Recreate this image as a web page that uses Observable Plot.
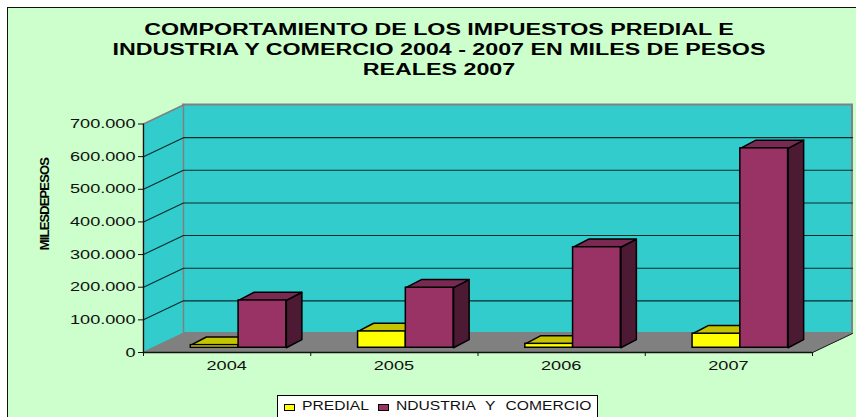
<!DOCTYPE html>
<html>
<head>
<meta charset="utf-8">
<script src="https://cdn.jsdelivr.net/npm/d3@7"></script>
<script src="https://cdn.jsdelivr.net/npm/@observablehq/plot@0.6"></script>
<style>
html,body{margin:0;padding:0;background:#fff;overflow:hidden}
#page{position:relative;width:856px;height:417px;overflow:hidden;font-family:"Liberation Sans",Arial,sans-serif}
#panel{position:absolute;left:7px;top:7px;width:860px;height:420px;box-sizing:border-box;background:#CCFFCC;border-left:1.5px solid #111;border-top:1.5px solid #111}
#title{position:absolute;left:139px;top:20px;width:600px;text-align:center;font-weight:bold;font-size:16px;line-height:19.8px;color:#000;white-space:nowrap;transform:scaleX(1.452);transform-origin:center}
#chart{position:absolute;left:0;top:95px}
#legend{position:absolute;left:277px;top:395px;width:321px;height:30px;box-sizing:border-box;background:#fff;border:1.2px solid #000}
#legend .key{position:absolute;top:7.5px;width:9px;height:5.5px;border:1.2px solid #000}
#legend .lab{position:absolute;top:2px;font-size:12.5px;line-height:16px;color:#111;white-space:nowrap;transform-origin:left center}
</style>
</head>
<body>
<div id="page">
  <div id="panel"></div>
  <div id="title"></div>
  <div id="chart"></div>
  <div id="legend"></div>
</div>
<script>
// ---- data ----
const titleLines = [
  "COMPORTAMIENTO DE LOS IMPUESTOS PREDIAL E",
  "INDUSTRIA Y COMERCIO 2004 - 2007 EN MILES DE PESOS",
  "REALES 2007"
];
const years = ["2004", "2005", "2006", "2007"];
const predial = [8000, 50000, 12000, 43000];
const industria = [145000, 184000, 308000, 611000];
const yTicks = [0, 100000, 200000, 300000, 400000, 500000, 600000, 700000];
const yLabel = "MILESDEPESOS";
const seriesNames = ["PREDIAL", "NDUSTRIA Y COMERCIO"];

// ---- oblique projection, expressed in data units ----
const wallDX = 0.239, wallDY = 58200;      // depth of the floor
const barDX = 0.093, barDY = 25000;        // depth of a bar
const baseY = 14500;                       // bars stand a little behind the front edge
const barW = 0.2855, offP = 0.283, offI = 0.5685;

const bars = (vals, off) => vals.map((v, i) => ({
  id: years[i], x1: i + off, x2: i + off + barW, y1: baseY, y2: baseY + v
}));
const barsP = bars(predial, offP), barsI = bars(industria, offI);

const poly = (id, pts) => pts.map(([x, y]) => ({id, x, y}));
const topFace = bs => bs.flatMap(b => poly(b.id, [
  [b.x1, b.y2], [b.x2, b.y2], [b.x2 + barDX, b.y2 + barDY], [b.x1 + barDX, b.y2 + barDY]]));
const sideFace = bs => bs.flatMap(b => poly(b.id, [
  [b.x2, b.y1], [b.x2, b.y2], [b.x2 + barDX, b.y2 + barDY], [b.x2 + barDX, b.y1 + barDY]]));

const shape = (pts, o) => Plot.line(pts, {x: "x", y: "y", z: "id", curve: "linear-closed", ...o});
const fmt = v => d3.format(",")(v).replace(/,/g, ".");
const outline = {stroke: "#000", strokeWidth: 1.5};
const yMax = yTicks[yTicks.length - 1];

const plot = Plot.plot({
  width: 856, height: 285,
  marginLeft: 143, marginRight: 44, marginTop: 28.5, marginBottom: 28,
  style: {background: "transparent", fontFamily: '"Liberation Sans",Arial,sans-serif', overflow: "visible"},
  x: {domain: [0, 4], axis: null},
  y: {domain: [0, yMax], axis: null},
  marks: [
    // walls and floor
    Plot.rect([0], {x1: wallDX, x2: 4 + wallDX, y1: wallDY, y2: yMax + wallDY, fill: "#33CCCC", stroke: "#808080", strokeWidth: 2}),
    shape(poly("side", [[0, 0], [wallDX, wallDY], [wallDX, yMax + wallDY], [0, yMax]]), {fill: "#33CCCC", stroke: "#808080", strokeWidth: 1.5}),
    shape(poly("floor", [[0, 0], [4, 0], [4 + wallDX, wallDY], [wallDX, wallDY]]), {fill: "#808080", stroke: "#808080", strokeWidth: 1}),
    // gridlines across side and back wall
    Plot.line(yTicks.slice(1, -1).flatMap(v => poly(v, [[0, v], [wallDX, v + wallDY], [4 + wallDX, v + wallDY]])),
      {x: "x", y: "y", z: "id", stroke: "#0a2a2a", strokeWidth: 1.1}),
    // edges
    Plot.ruleX([0], {y1: 0, y2: yMax, stroke: "#111", strokeWidth: 1.2}),
    Plot.ruleY([0], {x1: 0, x2: 4, stroke: "#111", strokeWidth: 1.4}),
    Plot.line(poly("edge", [[4, 0], [4 + wallDX, wallDY]]), {x: "x", y: "y", stroke: "#222", strokeWidth: 1}),
    // bars: PREDIAL
    shape(topFace(barsP), {fill: "#C4C400", ...outline}),
    Plot.rect(barsP, {x1: "x1", x2: "x2", y1: "y1", y2: "y2", fill: "#FFFF00", ...outline}),
    // bars: INDUSTRIA Y COMERCIO
    shape(sideFace(barsI), {fill: "#4C1A33", ...outline}),
    shape(topFace(barsI), {fill: "#7A2952", ...outline}),
    Plot.rect(barsI, {x1: "x1", x2: "x2", y1: "y1", y2: "y2", fill: "#993366", ...outline}),
    // axes
    Plot.axisY({ticks: yTicks, tickFormat: fmt, tickSize: 5, tickPadding: 3, fontSize: 12.5, stroke: "#111", fill: "#111", label: null, className: "stretch"}),
    Plot.axisX({ticks: [0, 1, 2, 3, 4], tickFormat: () => "", tickSize: 4, stroke: "#111", label: null}),
    Plot.axisX({ticks: years.map((_, i) => i + 0.5), tickFormat: t => years[t - 0.5], tickSize: 0, tickPadding: 8.5, dx: -0.5, fontSize: 12.5, fill: "#111", label: null, className: "stretch"}),
    // rotated axis title
    Plot.text([yLabel], {x: [-0.59], y: [456000], text: d => d, rotate: -90, fontSize: 13, fontWeight: "bold", fill: "#000", className: "ylabel"})
  ]
});
document.getElementById("chart").appendChild(plot);

// horizontally stretched type, as in the reference
const stretchX = (sel, k) => plot.querySelectorAll(sel).forEach(t => {
  t.setAttribute("textLength", t.getComputedTextLength() * k);
  t.setAttribute("lengthAdjust", "spacingAndGlyphs");
});
stretchX(".stretch text", 1.45);
plot.querySelectorAll(".ylabel text").forEach(t => {
  t.setAttribute("textLength", 93);
  t.setAttribute("lengthAdjust", "spacing");
});

// title
const titleEl = document.getElementById("title");
titleLines.forEach(line => {
  const d = document.createElement("div");
  d.textContent = line;
  titleEl.appendChild(d);
});

// legend
const legendEl = document.getElementById("legend");
[
  {name: seriesNames[0], color: "#FFFF00", key: 6, lab: 24, sx: 1.25, ws: 0},
  {name: seriesNames[1], color: "#993366", key: 100, lab: 118, sx: 1.25, ws: 4.8}
].forEach(s => {
  const k = document.createElement("span");
  k.className = "key";
  k.style.left = s.key + "px";
  k.style.background = s.color;
  legendEl.appendChild(k);
  const l = document.createElement("span");
  l.className = "lab";
  l.style.left = s.lab + "px";
  l.style.transform = "scaleX(" + s.sx + ")";
  l.style.wordSpacing = s.ws + "px";
  l.textContent = s.name;
  legendEl.appendChild(l);
});
</script>
</body>
</html>
